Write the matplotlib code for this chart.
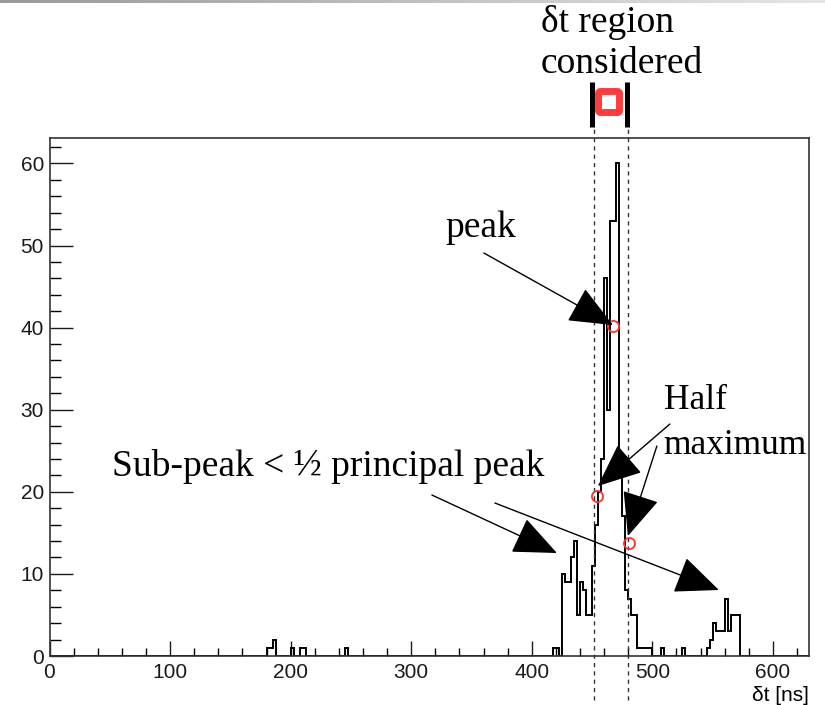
import numpy as np
import matplotlib.pyplot as plt
from matplotlib.patches import FancyBboxPatch
from matplotlib.lines import Line2D
from matplotlib.ticker import MultipleLocator

# histograma de dt, bins de 2.5 ns entre 0 y 630 ns (solo bins no vacios)
bin_lo = [180, 182.5, 185, 200, 207.5, 210, 245,
          417.5, 420, 425, 427.5, 430, 432.5, 435, 437.5, 440, 442.5, 445, 447.5,
          450, 452.5, 455, 457.5, 460, 462.5, 465, 467.5, 470, 472.5, 475, 477.5,
          480, 482.5, 485, 487.5, 490, 492.5, 495, 497.5, 507.5, 525,
          545, 547.5, 550, 552.5, 555, 557.5, 560, 562.5, 565, 567.5, 570]
cuentas = [1, 1, 2, 1, 1, 1, 1,
           1, 1, 10, 9, 9, 12, 14, 5, 9, 8, 5, 5,
           11, 16, 20, 24, 46, 30, 53, 53, 60, 23, 17, 8,
           7, 5, 5, 1, 1, 1, 1, 1, 1, 1,
           1, 2, 4, 3, 3, 3, 7, 3, 5, 5, 5]
ancho_bin = 2.5
x_max = 630

# puntos marcados (pico y mitad del maximo) y limites de la region
punto_pico = (467.6, 40.2)
puntos_mitad = [(454.3, 19.5), (480.6, 13.8)]
region_dt = [452.0, 479.5]

W, H = 825, 705
fig = plt.figure(figsize=(W / 100, H / 100), dpi=100)
ax = fig.add_axes([49.5 / W, 1 - 656 / H, (809 - 49.5) / W, (656 - 138) / H])


def px(x, y):
    # pixeles de la imagen -> fraccion de la figura
    return x / W, 1 - y / H


bordes = np.arange(0, x_max + ancho_bin / 2, ancho_bin)
ax.hist(np.array(bin_lo) + ancho_bin / 2, bins=bordes, weights=cuentas,
        histtype='step', color='black', linewidth=1.4)

ax.set_xlim(0, x_max)
ax.set_ylim(0, 63.1)

# ejes estilo ROOT
ax.xaxis.set_major_locator(MultipleLocator(100))
ax.xaxis.set_minor_locator(MultipleLocator(20))
ax.yaxis.set_major_locator(MultipleLocator(10))
ax.yaxis.set_minor_locator(MultipleLocator(2))
ax.tick_params(axis='x', which='major', direction='in', length=11, width=1, pad=5)
ax.tick_params(axis='x', which='minor', direction='in', length=5.8, width=1)
ax.tick_params(axis='y', which='major', direction='in', length=16.5, width=1, pad=4)
ax.tick_params(axis='y', which='minor', direction='in', length=8, width=1)
ax.tick_params(labelsize=15, colors='#1a1a1a')
for lab in ax.get_xticklabels() + ax.get_yticklabels():
    lab.set_family('Liberation Sans')
for s in ax.spines.values():
    s.set_linewidth(1.2)
    s.set_color('#333333')
ax.set_xlabel('δt [ns]', fontsize=15, family='Liberation Sans', loc='right', labelpad=3)

# lineas punteadas de la region considerada
for xr in region_dt:
    ax.axvline(xr, ymin=-0.085, ymax=1.02, color='#333333', linestyle=(0, (3, 3)),
               linewidth=1, clip_on=False)

# circulos rojos
ax.plot(*punto_pico, 'o', mfc='none', mec='#ff3030', ms=8, mew=1.3)
for p in puntos_mitad:
    ax.plot(*p, 'o', mfc='none', mec='#ff3030', ms=8, mew=1.3)

flecha = dict(arrowstyle='-|>,head_length=0.7,head_width=0.3', color='black',
              lw=1, mutation_scale=40, shrinkA=0, shrinkB=0)
fuente = dict(family='Liberation Serif', fontsize=27, color='black')


def a_datos(x, y):
    return (x - 49.5) / 1.2058, (656 - y) / 8.21


ax.annotate('', xy=a_datos(613, 325), xytext=a_datos(484, 253), arrowprops=flecha,
            annotation_clip=False)
ax.annotate('', xy=a_datos(598, 486), xytext=a_datos(670, 424), arrowprops=flecha,
            annotation_clip=False)
ax.annotate('', xy=a_datos(628, 536), xytext=a_datos(657, 446), arrowprops=flecha,
            annotation_clip=False)
ax.annotate('', xy=a_datos(557, 553), xytext=a_datos(432, 495), arrowprops=flecha,
            annotation_clip=False)
ax.annotate('', xy=a_datos(719, 590), xytext=a_datos(495, 503), arrowprops=flecha,
            annotation_clip=False)

fig.text(*px(481, 228), 'peak', ha='center', va='center', **fuente)
fig.text(*px(664, 400), 'Half', ha='left', va='center',
         **{**fuente, 'fontsize': 25.5})
fig.text(*px(663, 445), 'maximum', ha='left', va='center',
         **{**fuente, 'fontsize': 25.5})
fig.text(*px(112, 467), 'Sub-peak < ½ principal peak', ha='left', va='center', **fuente)
fig.text(*px(541, 22), 'δt region', ha='left', va='center', **fuente)
fig.text(*px(541, 64), 'considered', ha='left', va='center', **fuente)

# simbolo |[]| de la region
for xb in (592.2, 626.7):
    fig.add_artist(Line2D([xb / W, xb / W], [1 - 82 / H, 1 - 127 / H],
                          color='black', linewidth=3.6, solid_capstyle='butt'))
fig.add_artist(FancyBboxPatch(px(598.5, 112.5), 21 / W, 21 / H,
                              boxstyle='round,pad=0,rounding_size=0.003',
                              transform=fig.transFigure, fill=False,
                              edgecolor='#ff3b3b', linewidth=5.0))

# franja gris de la diapositiva
franja = fig.add_axes([0, 1 - 3 / H, 1, 3 / H])
franja.imshow(np.linspace(0.6, 0.9, 256)[None, :], cmap='gray', vmin=0, vmax=1,
              aspect='auto')
franja.axis('off')

fig.savefig('out.png', dpi=100)
